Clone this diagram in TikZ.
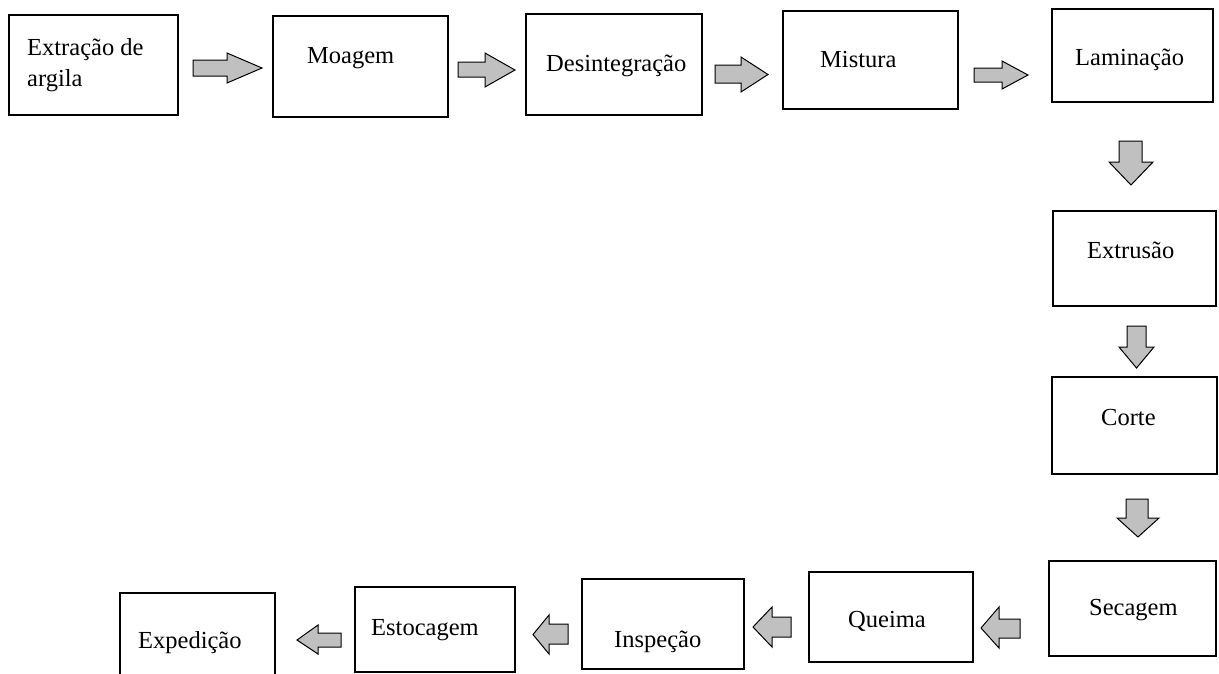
\documentclass[tikz,border=0pt]{standalone}
\usepackage{fontspec}
\setmainfont{Liberation Serif}
\definecolor{arrgray}{HTML}{C0C0C0}
\begin{document}
\begin{tikzpicture}[x=1pt,y=-1pt,
  stepbox/.style={draw=black,line width=1.3pt,fill=white,rectangle,inner sep=0pt},
  lbl/.style={anchor=base west,inner sep=0pt,font=\fontsize{24.5}{31}\selectfont,align=left},
  blk/.style={draw=black,line width=1pt,fill=arrgray,line join=miter}]
\useasboundingbox (0,0) rectangle (1219,673);
\clip (0,0) rectangle (1219,673);
\newcommand\boxat[5]{\node[stepbox,minimum width={#4-#2},minimum height={#5-#3}] (#1) at ({(#2+#4)/2},{(#3+#5)/2}) {};}
\boxat{b1}{9}{15}{178}{115}
\boxat{b2}{273}{16}{448}{117}
\boxat{b3}{526}{14}{702}{115}
\boxat{b4}{783}{11}{958}{109}
\boxat{b5}{1052}{9}{1213}{102}
\boxat{b6}{1053}{211}{1216}{306}
\boxat{b7}{1052}{377}{1217}{474}
\boxat{b8}{1049}{561}{1216}{656}
\boxat{b9}{809}{572}{973}{662}
\boxat{b10}{582}{579}{744}{669}
\boxat{b11}{355}{587}{515}{672}
\boxat{b12}{120}{593}{275}{693}
\node[lbl] (t1) at (27,86) {Extração de\\argila};
\node[lbl] (t2) at (307,63) {Moagem};
\node[lbl] (t3) at (546,71) {Desintegração};
\node[lbl] (t4) at (820,67) {Mistura};
\node[lbl] (t5) at (1075,65) {Laminação};
\node[lbl] (t6) at (1087,258) {Extrusão};
\node[lbl] (t7) at (1101,425) {Corte};
\node[lbl] (t8) at (1089,615) {Secagem};
\node[lbl] (t9) at (848,627) {Queima};
\node[lbl] (t10) at (614,647) {Inspeção};
\node[lbl] (t11) at (371,635) {Estocagem};
\node[lbl] (t12) at (138,648) {Expedição};
% right arrows
\draw[blk] (193,60)--(227,60)--(227,53)--(262,68)--(227,83)--(227,76)--(193,76)--cycle;
\draw[blk] (458,62)--(485,62)--(485,53)--(515,70)--(485,87)--(485,77)--(458,77)--cycle;
\draw[blk] (715,65)--(741,65)--(741,57)--(768,74.5)--(741,92)--(741,83)--(715,83)--cycle;
\draw[blk] (974,68)--(1002,68)--(1002,61)--(1028,75)--(1002,89)--(1002,82)--(974,82)--cycle;
% down arrows
\draw[blk] (1119,141)--(1142,141)--(1142,162)--(1153,162)--(1131,185)--(1109,162)--(1119,162)--cycle;
\draw[blk] (1127,326)--(1146,326)--(1146,347)--(1154,347)--(1136.5,368)--(1119,347)--(1127,347)--cycle;
\draw[blk] (1126,499)--(1148,499)--(1148,518)--(1159,518)--(1138,537)--(1117,518)--(1126,518)--cycle;
% left arrows
\draw[blk] (1020,619)--(999,619)--(999,607)--(981,628)--(999,648)--(999,638)--(1020,638)--cycle;
\draw[blk] (791,617)--(772,617)--(772,607)--(753,627)--(772,647)--(772,637)--(791,637)--cycle;
\draw[blk] (568,624)--(549,624)--(549,615)--(533,634.5)--(549,654)--(549,644)--(568,644)--cycle;
\draw[blk] (341,633)--(318,633)--(318,625)--(297,640)--(318,654)--(318,647)--(341,647)--cycle;
\end{tikzpicture}
\end{document}
